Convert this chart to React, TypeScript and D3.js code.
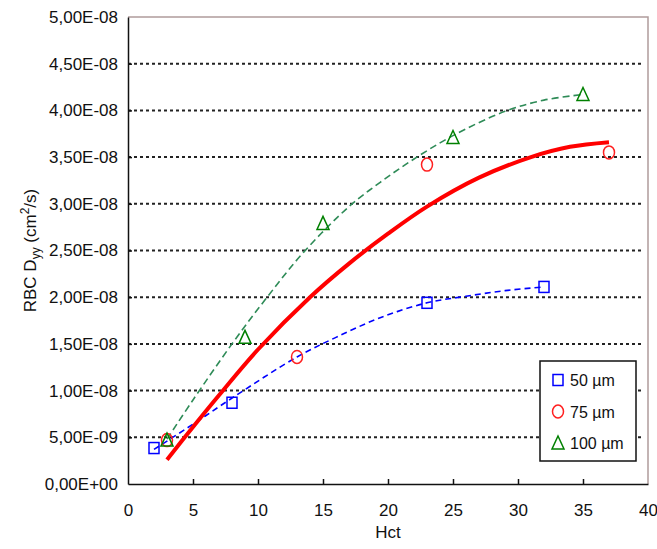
import React, {useEffect, useRef} from "react";
import * as d3 from "d3";

// measured points
const hct50 = [2, 8, 23, 32]
const dyy50 = [3.85e-9, 8.7e-9, 1.94e-8, 2.11e-8]
const hct75 = [3, 13, 23, 37]
const dyy75 = [4.7e-9, 1.36e-8, 3.42e-8, 3.55e-8]
const hct100 = [3, 9, 15, 25, 35]
const dyy100 = [4.7e-9, 1.57e-8, 2.79e-8, 3.71e-8, 4.17e-8]

// trend lines
const trend50 = [[2, 3.7e-9], [5, 6.4e-9], [8, 9.2e-9], [13, 1.36e-8], [16, 1.57e-8], [19.4, 1.78e-8], [23, 1.94e-8], [26, 2.01e-8], [29, 2.07e-8], [32, 2.11e-8]]
const trend75 = [[3, 2.6e-9], [5, 6.1e-9], [7, 9.5e-9], [10, 1.44e-8], [14, 2.0e-8], [17, 2.36e-8], [20, 2.68e-8], [23, 2.97e-8], [27, 3.28e-8], [31, 3.5e-8], [34, 3.61e-8], [37, 3.66e-8]]
const trend100 = [[3, 4.8e-9], [5, 9.0e-9], [8, 1.5e-8], [10.7, 2.0e-8], [13.5, 2.48e-8], [17, 2.97e-8], [19.4, 3.23e-8], [22, 3.48e-8], [25, 3.73e-8], [29, 3.99e-8], [32, 4.11e-8], [35, 4.17e-8]]

const xTicks = [0, 5, 10, 15, 20, 25, 30, 35, 40]
const yTicks = [0, 5e-9, 1e-8, 1.5e-8, 2e-8, 2.5e-8, 3e-8, 3.5e-8, 4e-8, 4.5e-8, 5e-8]
const yTickLabels = ["0,00E+00", "5,00E-09", "1,00E-08", "1,50E-08", "2,00E-08", "2,50E-08", "3,00E-08", "3,50E-08", "4,00E-08", "4,50E-08", "5,00E-08"]
const legendLabels = ["50 µm", "75 µm", "100 µm"]

const font = "'Liberation Sans', Arial, sans-serif"

const App = () => {

    const ref = useRef<SVGSVGElement>(null)

    useEffect(() => {
        const svg = d3.select(ref.current)
        svg.selectAll("*").remove()

        const left = 128, right = 648, top = 17, bottom = 484

        const x = d3.scaleLinear().domain([0, 40]).range([left, right])
        const y = d3.scaleLinear().domain([0, 5e-8]).range([bottom, top])

        // gridlines
        svg.append("g")
            .selectAll("line")
            .data(yTicks.filter(d => d > 0 && d < 5e-8))
            .join("line")
            .attr("x1", left).attr("x2", right - 4)
            .attr("y1", d => y(d)).attr("y2", d => y(d))
            .attr("stroke", "#222")
            .attr("stroke-width", 2)
            .attr("stroke-dasharray", "3,3")

        // frame (top and right)
        svg.append("path")
            .attr("d", `M${left},${top}H${right}V${bottom}`)
            .attr("fill", "none")
            .attr("stroke", "#b09c9c")
            .attr("stroke-width", 1.5)

        // axes
        const xAxis = svg.append("g")
            .attr("transform", `translate(0,${bottom})`)
            .call(d3.axisBottom(x).tickValues(xTicks).tickSizeInner(-5).tickSizeOuter(0).tickPadding(20))
        const yAxis = svg.append("g")
            .attr("transform", `translate(${left},0)`)
            .call(d3.axisLeft(y).tickValues(yTicks).tickFormat((d, i) => yTickLabels[i]).tickSizeInner(-4).tickSizeOuter(0).tickPadding(10))
        for (const ax of [xAxis, yAxis]) {
            ax.select(".domain").attr("stroke", "#111").attr("stroke-width", 1.5)
            ax.selectAll(".tick line").attr("stroke", "#111").attr("stroke-width", 1.5)
            ax.selectAll("text").attr("font-family", font).attr("font-size", 17).attr("fill", "#111")
        }
        yAxis.selectAll(".tick").filter((d) => d === 0 || d === 5e-8).select("line").remove()
        xAxis.selectAll(".tick").filter((d) => d === 0 || d === 40).select("line").remove()

        // trend lines
        const line = d3.line<number[]>().x(d => x(d[0])).y(d => y(d[1])).curve(d3.curveCatmullRom.alpha(0.5))

        svg.append("path").attr("d", line(trend50))
            .attr("fill", "none").attr("stroke", "#0000ff").attr("stroke-width", 1.6).attr("stroke-dasharray", "6,4")
        svg.append("path").attr("d", line(trend100))
            .attr("fill", "none").attr("stroke", "#2e8b57").attr("stroke-width", 1.6).attr("stroke-dasharray", "7,4")
        svg.append("path").attr("d", line(trend75))
            .attr("fill", "none").attr("stroke", "#ff0000").attr("stroke-width", 4)

        // markers
        const square = (g, cx, cy) => g.append("rect")
            .attr("x", cx - 5).attr("y", cy - 5.5).attr("width", 10).attr("height", 11)
            .attr("fill", "none").attr("stroke", "#0000ff").attr("stroke-width", 1.5)
        const circle = (g, cx, cy) => g.append("ellipse")
            .attr("cx", cx).attr("cy", cy).attr("rx", 5.5).attr("ry", 6.5)
            .attr("fill", "none").attr("stroke", "#ff2020").attr("stroke-width", 1.5)
        const triangle = (g, cx, cy) => g.append("path")
            .attr("d", `M${cx},${cy - 7}L${cx + 6},${cy + 6}L${cx - 6},${cy + 6}Z`)
            .attr("fill", "none").attr("stroke", "#008000").attr("stroke-width", 1.5)

        const marks = svg.append("g")
        hct50.forEach((h, i) => square(marks, x(h), y(dyy50[i])))
        hct75.forEach((h, i) => circle(marks, x(h), y(dyy75[i])))
        hct100.forEach((h, i) => triangle(marks, x(h), y(dyy100[i])))

        // legend
        const legend = svg.append("g")
        legend.append("rect")
            .attr("x", 540).attr("y", 361).attr("width", 96).attr("height", 100)
            .attr("fill", "white").attr("stroke", "#111").attr("stroke-width", 1.5)
        const makers = [square, circle, triangle]
        legendLabels.forEach((label, i) => {
            const cy = 380 + i * 31.5
            makers[i](legend, 558, cy)
            legend.append("text")
                .attr("x", 570).attr("y", cy + 6)
                .attr("font-family", font).attr("font-size", 16).attr("fill", "#111")
                .text(label)
        })

        // axis titles
        svg.append("text")
            .attr("x", x(20)).attr("y", 538)
            .attr("text-anchor", "middle")
            .attr("font-family", font).attr("font-size", 17).attr("fill", "#111")
            .text("Hct")

        const yTitle = svg.append("text")
            .attr("transform", `translate(36,${(top + bottom) / 2}) rotate(-90)`)
            .attr("text-anchor", "middle")
            .attr("font-family", font).attr("font-size", 17).attr("fill", "#111")
        yTitle.append("tspan").text("RBC D")
        yTitle.append("tspan").attr("font-size", 12).attr("dy", 4).text("yy")
        yTitle.append("tspan").attr("dy", -4).text(" (cm")
        yTitle.append("tspan").attr("font-size", 12).attr("dy", -7).text("2")
        yTitle.append("tspan").attr("dy", 7).text("/s)")
    }, [])

    return <svg ref={ref} width={657} height={549}
                style={{position: "absolute", left: 0, top: 0, background: "white"}}/>
}

export default App
